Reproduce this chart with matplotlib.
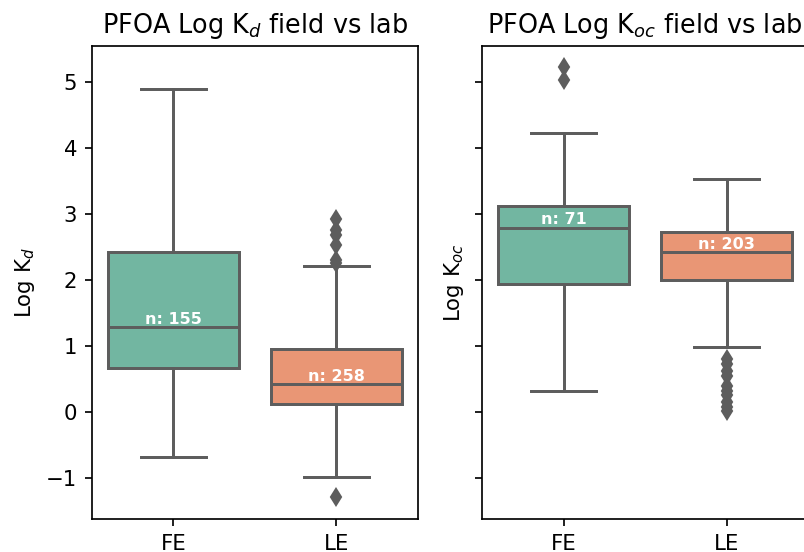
import colorsys
import matplotlib
matplotlib.use("Agg")
import matplotlib.pyplot as plt
import matplotlib.colors as mcolors

# categorias e estatísticas
groups = ["FE", "LE"]
kd_counts = [155, 258]
kd_q1 = [0.67, 0.12]
kd_med = [1.28, 0.42]
kd_q3 = [2.42, 0.96]
kd_lo = [-0.68, -0.99]
kd_hi = [4.89, 2.21]
kd_fliers = [[], [2.92, 2.75, 2.68, 2.52, 2.30, 2.25, -1.28]]

koc_counts = [71, 203]
koc_q1 = [1.94, 2.00]
koc_med = [2.79, 2.42]
koc_q3 = [3.12, 2.72]
koc_lo = [0.32, 0.99]
koc_hi = [4.22, 3.53]
koc_fliers = [[5.22, 5.02],
              [0.80, 0.72, 0.62, 0.55, 0.40, 0.32, 0.25, 0.15, 0.08, 0.02]]

palette = ["#66c2a5", "#fc8d62"]
gray = "#5d5d5d"
DPI = 153


def desaturate(c, prop=0.75):
    r, g, b = mcolors.to_rgb(c)
    h, l, s = colorsys.rgb_to_hls(r, g, b)
    return colorsys.hls_to_rgb(h, l, s * prop)


def make_stats(q1, med, q3, lo, hi, fliers):
    stats = []
    for i in range(len(q1)):
        stats.append({"q1": q1[i], "med": med[i], "q3": q3[i],
                      "whislo": lo[i], "whishi": hi[i], "fliers": fliers[i]})
    return stats


def draw_box(ax, stats, counts):
    bp = ax.bxp(stats, positions=range(len(stats)), widths=0.8,
                patch_artist=True, capwidths=0.4,
                boxprops=dict(edgecolor=gray, linewidth=1.4),
                whiskerprops=dict(color=gray, linewidth=1.4),
                capprops=dict(color=gray, linewidth=1.4),
                medianprops=dict(color=gray, linewidth=1.4),
                flierprops=dict(marker="d", markerfacecolor=gray,
                                markeredgecolor=gray, markersize=5.5))
    for patch, c in zip(bp["boxes"], palette):
        patch.set_facecolor(desaturate(c))
    for i, s in enumerate(stats):
        ax.text(i, s["med"] + 0.05, f"n: {counts[i]}", ha="center", va="baseline",
                color="w", fontsize=7.5, weight="semibold")
    ax.set_xticks(range(len(groups)))
    ax.set_xticklabels(groups)
    ax.set_xlim(-0.5, len(groups) - 0.5)


fig = plt.figure(figsize=(804 / DPI, 552 / DPI), dpi=DPI)
ax1 = fig.add_axes([0.1144, 0.0598, 0.4055, 0.857])
ax2 = fig.add_axes([0.5995, 0.0598, 0.4055, 0.857], sharey=ax1)

draw_box(ax1, make_stats(kd_q1, kd_med, kd_q3, kd_lo, kd_hi, kd_fliers), kd_counts)
draw_box(ax2, make_stats(koc_q1, koc_med, koc_q3, koc_lo, koc_hi, koc_fliers), koc_counts)

ax1.set_ylim(-1.62, 5.54)
ax1.set_yticks([-1, 0, 1, 2, 3, 4, 5])
ax2.tick_params(labelleft=False)

ax1.set_title("PFOA Log K$_d$ field vs lab")
ax2.set_title("PFOA Log K$_{oc}$ field vs lab")
ax1.set_ylabel("Log K$_d$")
ax2.set_ylabel("Log K$_{oc}$")

fig.savefig("out.png", dpi=DPI)
